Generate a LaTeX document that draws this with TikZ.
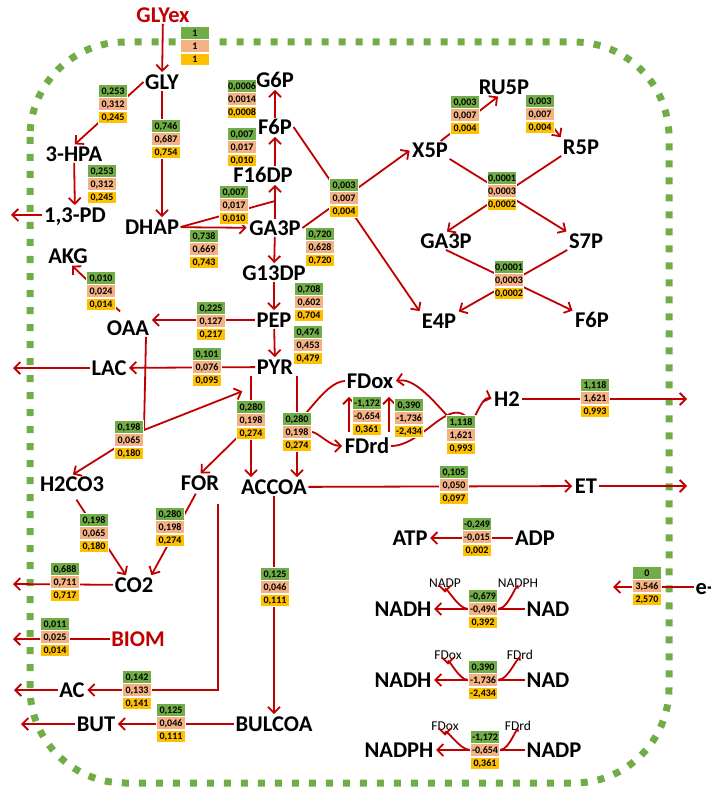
\documentclass[tikz,border=0pt]{standalone}
\usepackage{fontspec}
\setmainfont{Carlito}
\usepackage{tikz}
\usetikzlibrary{arrows.meta, calc, positioning}
\definecolor{fgreen}{RGB}{112,173,71}
\definecolor{fsalmon}{RGB}{244,177,131}
\definecolor{fgold}{RGB}{255,192,0}
\definecolor{fred}{RGB}{192,0,0}
\tikzset{
  lbl/.style={font=\fontsize{22.5}{22.5}\selectfont\bfseries, text height=14.5pt, text depth=0pt, inner sep=1.5pt},
  sml/.style={font=\fontsize{13.5}{13.5}\selectfont, text height=8.7pt, text depth=0pt, inner sep=1pt},
  fcell/.style={minimum width=29pt, minimum height=12.8pt, inner sep=0pt, draw=white, line width=0.5pt,
    font=\fontsize{10}{10}\selectfont\bfseries, text height=6.8pt, text depth=0pt},
  flow/.style={draw=fred, line width=1.8pt, -{Straight Barb[length=6pt,width=12pt]}, shorten >=1pt},
  line/.style={draw=fred, line width=1.8pt},
  border/.style={draw=fgreen, line width=7pt, dash pattern=on 7pt off 10pt, rounded corners=95pt}
}
% three stacked flux values: name, position, green, salmon, gold
\newcommand{\flux}[5]{%
  \node[fcell, fill=fsalmon] (#1) at (#2) {#4};
  \node[fcell, fill=fgreen, above=0pt of #1] (#1a) {#3};
  \node[fcell, fill=fgold, below=0pt of #1] (#1c) {#5};
}

\begin{document}
\begin{tikzpicture}[x=1pt, y=-1pt]
  \useasboundingbox (0,0) rectangle (710,791);
  % cell membrane
  \draw[border] (30,42) rectangle (669,783);

  % metabolites
  \node[lbl, text=fred] (glyex) at (163,15) {GLYex};
  \node[lbl] (gly) at (162,82) {GLY};
  \node[lbl] (hpa) at (74,154) {3-HPA};
  \node[lbl] (pd) at (75,215) {1,3-PD};
  \node[lbl] (dhap) at (152,227) {DHAP};
  \node[lbl] (g6p) at (275,80) {G6P};
  \node[lbl] (f6p) at (275,127) {F6P};
  \node[lbl] (f16dp) at (263,175) {F16DP};
  \node[lbl] (ga3p) at (275,228) {GA3P};
  \node[lbl] (g13dp) at (274,273) {G13DP};
  \node[lbl] (pep) at (274,320) {PEP};
  \node[lbl] (pyr) at (275,367) {PYR};
  \node[lbl] (oaa) at (128,328) {OAA};
  \node[lbl] (akg) at (68,256) {AKG};
  \node[lbl] (lac) at (109,368) {LAC};
  \node[lbl] (h2co3) at (72,484) {H2CO3};
  \node[lbl] (form) at (200,483) {FOR};
  \node[lbl] (accoa) at (274,487) {ACCOA};
  \node[lbl] (fdox) at (370,381) {FDox};
  \node[lbl] (fdrd) at (367,446) {FDrd};
  \node[lbl] (h2) at (507,399) {H2};
  \node[lbl] (et) at (586,486) {ET};
  \node[lbl] (x5p) at (430,150) {X5P};
  \node[lbl] (ru5p) at (504,87) {RU5P};
  \node[lbl] (r5p) at (581,147) {R5P};
  \node[lbl] (ga3pb) at (446,241) {GA3P};
  \node[lbl] (s7p) at (586,241) {S7P};
  \node[lbl] (e4p) at (439,321) {E4P};
  \node[lbl] (f6pb) at (592,320) {F6P};
  \node[lbl] (co2) at (134,585) {CO2};
  \node[lbl, text=fred] (biom) at (138,639) {BIOM};
  \node[lbl] (ac) at (72,690) {AC};
  \node[lbl] (but) at (96,724) {BUT};
  \node[lbl] (bulcoa) at (274,724) {BULCOA};
  % cofactors
  \node[lbl] (atp) at (410,538) {ATP};
  \node[lbl] (adp) at (535,538) {ADP};
  \node[lbl] (nadha) at (403,609) {NADH};
  \node[lbl] (nada) at (548,609) {NAD};
  \node[lbl] (nadhb) at (403,680) {NADH};
  \node[lbl] (nadb) at (548,680) {NAD};
  \node[lbl] (nadph) at (399,750) {NADPH};
  \node[lbl] (nadpc) at (554,750) {NADP};
  \node[lbl, anchor=west] (elec) at (694,587) {e-};
  \node[sml] (nadpa) at (445,583) {NADP};
  \node[sml] (nadpha) at (518,583) {NADPH};
  \node[sml] (fdoxb) at (448,655) {FDox};
  \node[sml] (fdrdb) at (520,655) {FDrd};
  \node[sml] (fdoxc) at (445,726) {FDox};
  \node[sml] (fdrdc) at (518,726) {FDrd};

  % junctions and exits
  \coordinate (pdout) at (10,215);
  \coordinate (lacout) at (12,368);
  \coordinate (co2out) at (12,584);
  \coordinate (biomout) at (12,639);
  \coordinate (acout) at (13,690);
  \coordinate (butout) at (20,724);
  \coordinate (h2out) at (688,399);
  \coordinate (etout) at (688,486);
  \coordinate (eout) at (612,587);
  \coordinate (fbpj) at (275,201);
  \coordinate (oaaj) at (144,430);
  \coordinate (forj) at (251,424);
  \coordinate (fdj) at (297,413);
  \coordinate (fdrj) at (300,434);
  \coordinate (h2j) at (469,420);
  \coordinate (acj) at (218,504);
  \coordinate (nja) at (498,609);
  \coordinate (njb) at (468,609);
  \coordinate (nfa) at (498,680);
  \coordinate (nfb) at (468,680);
  \coordinate (npa) at (500,750);
  \coordinate (npb) at (470,750);

  % glycerol
  \draw[flow] (glyex) -- (gly);
  \draw[flow] (gly.west) -- (hpa.north);
  \draw[flow] (hpa) -- (pd);
  \draw[flow] (pd) -- (pdout);
  \draw[flow] (gly.south) -- (gly.south |- dhap.north);
  % glycolysis
  \draw[flow] (dhap) -- (ga3p);
  \draw[line] (dhap.east) -- (fbpj);
  \draw[flow] (ga3p.north) -- (ga3p.north |- f16dp.south);
  \draw[flow] (f6p |- f16dp.north) -- (f6p.south);
  \draw[flow] (f6p) -- (g6p);
  \draw[flow] (ga3p) -- (g13dp);
  \draw[flow] (g13dp) -- (pep);
  \draw[flow] (pep) -- (pyr);
  % pentose phosphates
  \draw[flow] (f6p.east) -- (e4p.north west);
  \draw[flow] (ga3p.east) -- (x5p.west);
  \draw[flow] (x5p.40) -- (ru5p.240);
  \draw[flow] (ru5p.south east) -- (r5p.north west);
  \draw[flow] (x5p.south east) -- (s7p.north west);
  \draw[flow] (r5p.south west) -- (ga3pb.north);
  \draw[flow] (ga3pb.south) -- (f6pb.north west);
  \draw[flow] (s7p.south west) -- (e4p.north east);
  % anaplerotic
  \draw[flow] (pep.west) -- (pep.west -| oaa.east);
  \draw[flow, shorten <=11pt] (oaa.north) -- (akg.-70);
  \draw[flow] (pyr) -- (lac);
  \draw[flow] (lac) -- (lacout);
  \draw[line] ([xshift=18pt]oaa.south) -- (oaaj);
  \draw[flow] (oaaj) -- ([xshift=-12pt,yshift=-15pt]pyr.south west);
  \draw[flow] (oaaj) -- (h2co3.north);
  % pyruvate node
  \draw[flow] ([xshift=-24pt]pyr.south) -- ([xshift=-23pt]accoa.north);
  \draw[flow] (forj) -- (form.north);
  \draw[flow] ([xshift=22pt]pyr.south) -- ([xshift=23pt]accoa.north);
  \draw[line] (fdj) to[out=-90, in=180] (fdox.west);
  \draw[flow] (fdrj) to[out=40, in=180] (fdrd.west);
  \draw[flow, shorten <=5pt, shorten >=7pt] ([xshift=-18pt]fdrd.north) -- ([xshift=-21pt]fdox.south);
  \draw[flow, shorten <=5pt, shorten >=7pt] ([xshift=22pt]fdrd.north) -- ([xshift=19pt]fdox.south);
  % hydrogen
  \draw[line] (fdrd.east) to[out=0, in=125] (h2j);
  \draw[flow] (h2j) to[out=-100, in=10] (fdox.east);
  \draw[flow] (h2j) to[out=-80, in=160] (h2.west);
  \draw[flow] (h2) -- (h2out);
  % products
  \draw[flow] (accoa) -- (et);
  \draw[flow] (et) -- (etout);
  \draw[flow] (accoa) -- (bulcoa);
  \draw[flow] (bulcoa) -- (but);
  \draw[flow] (but) -- (butout);
  \draw[flow] (acj) -- (acj |- ac) -- (ac);
  \draw[flow] (ac) -- (acout);
  \draw[flow, shorten <=8pt] (h2co3.south) -- (co2.130);
  \draw[flow, shorten <=2pt] (form.-110) -- ([xshift=-4pt]co2.north east);
  \draw[flow] (co2) -- (co2out);
  \draw[flow] (biom) -- (biomout);
  % cofactor balances
  \draw[flow] (adp) -- (atp);
  \draw[flow] (nada) -- (nadha);
  \draw[line] (nadpha.south) to[out=90, in=0] (nja);
  \draw[flow] (njb) to[out=180, in=90] ([yshift=-5pt]nadpa.south);
  \draw[flow] (nadb) -- (nadhb);
  \draw[line] (fdrdb.south) to[out=90, in=0] (nfa);
  \draw[flow] (nfb) to[out=180, in=90] ([yshift=-5pt]fdoxb.south);
  \draw[flow] (nadpc) -- (nadph);
  \draw[line] (fdrdc.south) to[out=90, in=0] (npa);
  \draw[flow] (npb) to[out=180, in=90] ([yshift=-5pt]fdoxc.south);
  \draw[flow] (elec.west) -- (eout);

  % flux values
  \flux{fglyex}{195,46}{1}{1}{1}
  \flux{fhpa}{113,104}{0,253}{0,312}{0,245}
  \flux{fpd}{102,184}{0,253}{0,312}{0,245}
  \flux{fdhap}{166,139}{0,746}{0,687}{0,754}
  \flux{fg6p}{242,99}{0,0006}{0,0014}{0,0008}
  \flux{ff6p}{242,147}{0,007}{0,017}{0,010}
  \flux{ffbp}{234,205}{0,007}{0,017}{0,010}
  \flux{fga3p}{204,249}{0,738}{0,669}{0,743}
  \flux{fppp}{344,198}{0,003}{0,007}{0,004}
  \flux{fg13dp}{320,247}{0,720}{0,628}{0,720}
  \flux{fpep}{309,302}{0,708}{0,602}{0,704}
  \flux{fpyr}{308,345}{0,474}{0,453}{0,479}
  \flux{foaa}{211,321}{0,225}{0,127}{0,217}
  \flux{fakg}{101,291}{0,010}{0,024}{0,014}
  \flux{flac}{207,367}{0,101}{0,076}{0,095}
  \flux{fh2co3}{129,440}{0,198}{0,065}{0,180}
  \flux{fform}{251,420}{0,280}{0,198}{0,274}
  \flux{faccoa}{297,432}{0,280}{0,198}{0,274}
  \flux{ffda}{367,416}{-1,172}{-0,654}{0,361}
  \flux{ffdb}{409,418}{0,390}{-1,736}{-2,434}
  \flux{fh2}{461,435}{1,118}{1,621}{0,993}
  \flux{fh2out}{595,398}{1,118}{1,621}{0,993}
  \flux{fet}{454,485}{0,105}{0,050}{0,097}
  \flux{fru5p}{465,115}{0,003}{0,007}{0,004}
  \flux{fr5p}{540,114}{0,003}{0,007}{0,004}
  \flux{ftka}{502,191}{0,0001}{0,0003}{0,0002}
  \flux{ftal}{509,280}{0,0001}{0,0003}{0,0002}
  \flux{fco2a}{94,533}{0,198}{0,065}{0,180}
  \flux{fco2b}{170,527}{0,280}{0,198}{0,274}
  \flux{fco2}{65,582}{0,688}{0,711}{0,717}
  \flux{fbiom}{55,637}{0,011}{0,025}{0,014}
  \flux{fac}{137,690}{0,142}{0,133}{0,141}
  \flux{fbul}{275,587}{0,125}{0,046}{0,111}
  \flux{fbut}{171,723}{0,125}{0,046}{0,111}
  \flux{fatp}{477,537}{-0,249}{-0,015}{0,002}
  \flux{fnad}{483,609}{-0,679}{-0,494}{0,392}
  \flux{ffnr}{483,680}{0,390}{-1,736}{-2,434}
  \flux{ffnrp}{485,750}{-1,172}{-0,654}{0,361}
  \flux{felec}{647,586}{0}{3,546}{2,570}
\end{tikzpicture}
\end{document}
